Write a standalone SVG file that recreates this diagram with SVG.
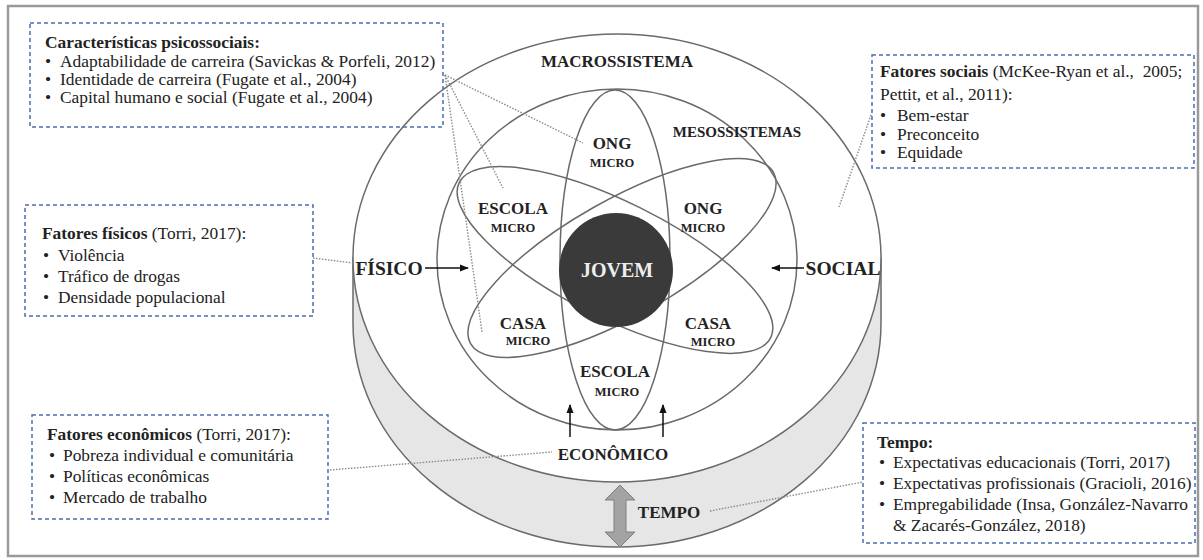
<svg xmlns="http://www.w3.org/2000/svg" width="1203" height="560" viewBox="0 0 1203 560">
<style>
.bx{fill:none;stroke:#4a6fb0;stroke-width:1.5;stroke-dasharray:4 3}
.ln{fill:none;stroke:#6a6a6a;stroke-width:1.5}
.dot{fill:none;stroke:#8a8a8a;stroke-width:1.4;stroke-dasharray:1.5 1.5}
text{font-family:'Liberation Serif','DejaVu Serif',serif}
.t{font-size:17.4px;fill:#222}
.b{font-weight:bold}
.lb{font-weight:bold;fill:#222;text-anchor:middle}
.big{font-size:17px}
.side{font-size:19.5px}
.mi{font-size:12.5px}
.ar{stroke:#111;stroke-width:1.5;fill:none;marker-end:url(#ah)}
</style>
<defs>
<marker id="ah" viewBox="0 0 10 10" refX="9" refY="5" markerWidth="6" markerHeight="6" orient="auto-start-reverse" markerUnits="strokeWidth">
<path d="M0,1 L10,5 L0,9 Z" fill="#111"/>
</marker>
</defs>
<rect x="0" y="0" width="1203" height="560" fill="#fff"/>
<rect x="8" y="6" width="1190" height="550" fill="none" stroke="#9a9a9a" stroke-width="2.5"/>

<g id="cylinder">
<path d="M353,258 L353,323 A264,224 0 0 0 881,323 L881,258 Z" fill="#e6e6e6" stroke="#6a6a6a" stroke-width="1.5"/>
<ellipse cx="617" cy="258" rx="264" ry="224" fill="#fff" stroke="#6a6a6a" stroke-width="1.5"/>
</g>
<g id="mesossistema">
<ellipse cx="617" cy="259.5" rx="180" ry="170.5" class="ln"/>
</g>
<g id="micro-vertical">
<ellipse cx="615" cy="260" rx="55" ry="170" class="ln"/>
</g>
<g id="micro-escola-casa">
<ellipse cx="615" cy="260" rx="174" ry="58" class="ln" transform="rotate(26.5 615 260)"/>
</g>
<g id="micro-ong-casa">
<ellipse cx="622" cy="258" rx="174" ry="58" class="ln" transform="rotate(-29.5 622 258)"/>
</g>
<g id="jovem">
<circle cx="616" cy="270" r="57" fill="#3a3a3a"/>
<text x="617" y="277" class="lb" style="font-size:20px;fill:#eee">JOVEM</text>
</g>

<g id="labels">
<text x="617" y="67" class="lb" style="font-size:17px">MACROSSISTEMA</text>
<text x="737" y="137" class="lb" style="font-size:15px">MESOSSISTEMAS</text>
<text x="612" y="149" class="lb big">ONG</text>
<text x="612" y="167" class="lb mi">MICRO</text>
<text x="513" y="214" class="lb big">ESCOLA</text>
<text x="513" y="232" class="lb mi">MICRO</text>
<text x="703" y="214" class="lb big">ONG</text>
<text x="703" y="232" class="lb mi">MICRO</text>
<text x="523" y="329" class="lb big">CASA</text>
<text x="528" y="345" class="lb mi">MICRO</text>
<text x="708" y="329" class="lb big">CASA</text>
<text x="713" y="346" class="lb mi">MICRO</text>
<text x="615" y="377" class="lb big">ESCOLA</text>
<text x="617" y="396" class="lb mi">MICRO</text>
<text x="613" y="460" class="lb big">ECONÔMICO</text>
<text x="389" y="275" class="lb side">FÍSICO</text>
<text x="843" y="275" class="lb side">SOCIAL</text>
<text x="669" y="518" class="lb big">TEMPO</text>
</g>

<g id="connectors">
<line x1="425" y1="268" x2="468" y2="268" class="ar"/>
<line x1="804" y1="268" x2="772" y2="268" class="ar"/>
<line x1="570" y1="437" x2="570" y2="405" class="ar"/>
<line x1="663" y1="437" x2="663" y2="405" class="ar"/>
<polygon points="620,485 635,500 626,500 626,532 635,532 620,547 605,532 614,532 614,500 605,500" fill="#a3a3a3" stroke="#808080" stroke-width="1"/>
<line x1="445" y1="75" x2="583" y2="143" class="dot"/>
<line x1="445" y1="75" x2="503" y2="188" class="dot"/>
<line x1="445" y1="75" x2="482" y2="332" class="dot"/>
<line x1="871" y1="115" x2="839" y2="207" class="dot"/>
<line x1="313" y1="258" x2="353" y2="263" class="dot"/>
<line x1="330" y1="470" x2="552" y2="452" class="dot"/>
<line x1="710" y1="511" x2="863" y2="482" class="dot"/>
</g>

<g id="box-psicossociais">
<rect x="30" y="23" width="413" height="104" class="bx"/>
<text x="45" y="48" class="t b">Características psicossociais:</text>
<text x="45" y="67" class="t">•</text><text x="60" y="67" class="t">Adaptabilidade de carreira (Savickas &amp; Porfeli, 2012)</text>
<text x="45" y="85" class="t">•</text><text x="60" y="85" class="t">Identidade de carreira (Fugate et al., 2004)</text>
<text x="45" y="103" class="t">•</text><text x="60" y="103" class="t">Capital humano e social (Fugate et al., 2004)</text>
</g>

<g id="box-sociais">
<rect x="872" y="55" width="322" height="113" class="bx"/>
<text x="880" y="77" class="t" xml:space="preserve"><tspan class="b">Fatores sociais</tspan> (McKee-Ryan et al.,  2005;</text>
<text x="880" y="100" class="t">Pettit, et al., 2011):</text>
<text x="880" y="121" class="t">•</text><text x="897" y="121" class="t">Bem-estar</text>
<text x="880" y="140" class="t">•</text><text x="897" y="140" class="t">Preconceito</text>
<text x="880" y="158" class="t">•</text><text x="897" y="158" class="t">Equidade</text>
</g>

<g id="box-fisicos">
<rect x="25" y="205" width="288" height="111" class="bx"/>
<text x="42" y="239" class="t"><tspan class="b">Fatores físicos</tspan> (Torri, 2017):</text>
<text x="43" y="261" class="t">•</text><text x="58" y="261" class="t">Violência</text>
<text x="43" y="282" class="t">•</text><text x="58" y="282" class="t">Tráfico de drogas</text>
<text x="43" y="303" class="t">•</text><text x="58" y="303" class="t">Densidade populacional</text>
</g>

<g id="box-economicos">
<rect x="32" y="415" width="296" height="104" class="bx"/>
<text x="47" y="440" class="t"><tspan class="b">Fatores econômicos</tspan> (Torri, 2017):</text>
<text x="49" y="461" class="t">•</text><text x="63" y="461" class="t">Pobreza individual e comunitária</text>
<text x="49" y="482" class="t">•</text><text x="63" y="482" class="t">Políticas econômicas</text>
<text x="49" y="503" class="t">•</text><text x="63" y="503" class="t">Mercado de trabalho</text>
</g>

<g id="box-tempo">
<rect x="863" y="423" width="332" height="120" class="bx"/>
<text x="877" y="448" class="t b">Tempo:</text>
<text x="879" y="468" class="t">•</text><text x="893" y="468" class="t">Expectativas educacionais (Torri, 2017)</text>
<text x="879" y="489" class="t">•</text><text x="893" y="489" class="t">Expectativas profissionais (Gracioli, 2016)</text>
<text x="879" y="510" class="t">•</text><text x="893" y="510" class="t">Empregabilidade (Insa, González-Navarro</text>
<text x="893" y="531" class="t">&amp; Zacarés-González, 2018)</text>
</g>
</svg>
